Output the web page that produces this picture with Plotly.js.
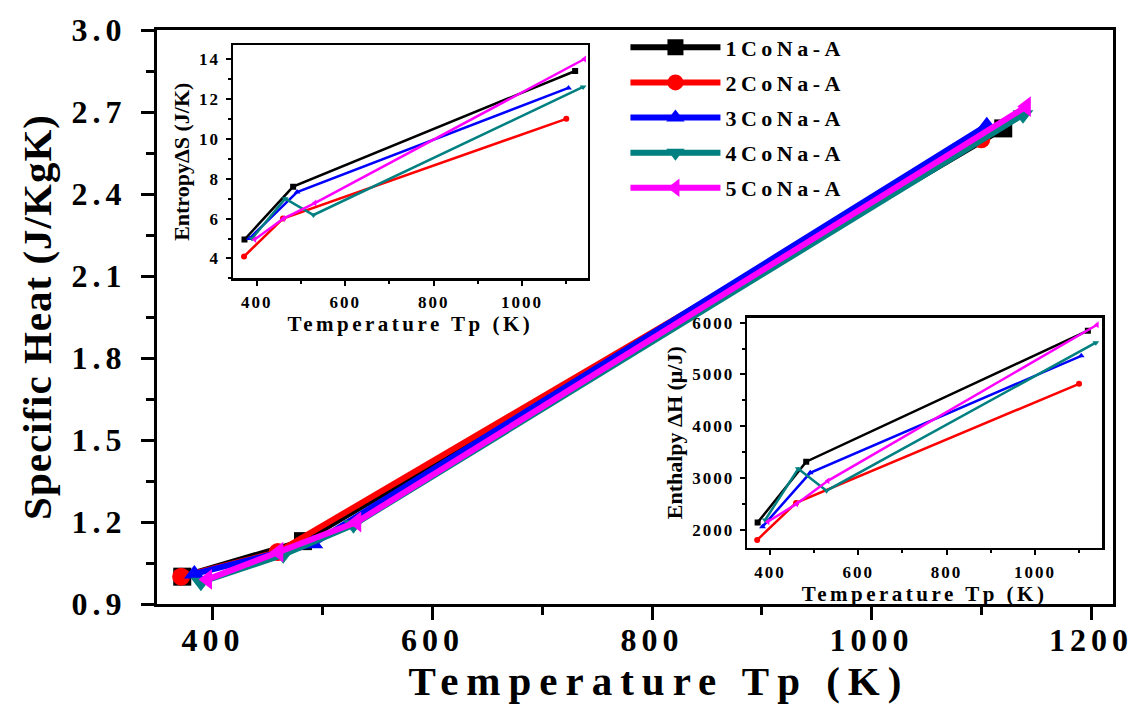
<!DOCTYPE html>
<html>
<head>
<meta charset="utf-8">
<script src="https://cdn.plot.ly/plotly-3.0.1.min.js"></script>
<style>
  body { margin: 0; background: #ffffff; }
  #chart { width: 1133px; height: 704px; }
  .xtick text, .ytick text { letter-spacing: 5px; }
  .x2tick text, .y2tick text, .x3tick text, .y3tick text { letter-spacing: 2px; }
  .g-xtitle text { letter-spacing: 8px; transform: translateX(24px); }
  .g-ytitle text { letter-spacing: 1px; }
  .g-x2title text, .g-x3title text { letter-spacing: 3.5px; }
  .legendtext { letter-spacing: 4.5px; }
</style>
</head>
<body>
<div id="chart"></div>
<script>
// ---- data ----
const seriesNames = ['1CoNa-A', '2CoNa-A', '3CoNa-A', '4CoNa-A', '5CoNa-A'];

// peak temperatures Tp (K) per sample
const temps1 = [372, 482, 1120];
const temps2 = [371, 459, 1100];
const temps3 = [383, 491, 1105];
const temps4 = [389, 464, 528, 1138];
const temps5 = [395, 460, 531, 1141];

// specific heat (J/KgK) – main panel
const cp1 = [1.00, 1.13, 2.64];
const cp2 = [1.00, 1.09, 2.60];
const cp3 = [1.01, 1.12, 2.65];
const cp4 = [0.98, 1.08, 1.19, 2.69];
const cp5 = [0.99, 1.09, 1.20, 2.72];

// entropy ΔS (J/K) – upper inset
const entropy1 = [4.95, 7.6, 13.4];
const entropy2 = [4.1, 6.0, 11.0];
const entropy3 = [5.0, 7.33, 12.55];
const entropy4 = [5.0, 7.0, 6.18, 12.6];
const entropy5 = [4.95, 6.0, 6.78, 14.0];

// enthalpy ΔH (μ/J) – lower inset
const enthalpy1 = [2140, 3315, 5845];
const enthalpy2 = [1805, 2520, 4820];
const enthalpy3 = [2060, 3100, 5360];
const enthalpy4 = [2190, 3180, 2755, 5615];
const enthalpy5 = [2155, 2500, 2945, 5960];

const xTickVals = [400, 600, 800, 1000, 1200];
const yTickVals = [0.9, 1.2, 1.5, 1.8, 2.1, 2.4, 2.7, 3.0];

// ---- styling ----
const colors = ['#000000', '#ff0000', '#0000ff', '#008080', '#ff00ff'];
const symbols = ['square', 'circle', 'triangle-up', 'triangle-down', 'triangle-left'];
const FONT = 'Liberation Serif, Times New Roman, serif';

const temps = [temps1, temps2, temps3, temps4, temps5];
const cps = [cp1, cp2, cp3, cp4, cp5];
const entropies = [entropy1, entropy2, entropy3, entropy4, entropy5];
const enthalpies = [enthalpy1, enthalpy2, enthalpy3, enthalpy4, enthalpy5];

const traces = [];
for (let i = 0; i < 5; i++) {
  traces.push({
    x: temps[i], y: cps[i], xaxis: 'x', yaxis: 'y',
    type: 'scatter', mode: 'lines+markers', name: seriesNames[i],
    legendgroup: 'g' + i,
    line: { color: colors[i], width: 6 },
    marker: { color: colors[i], symbol: symbols[i], size: 18 }
  });
}
for (let i = 0; i < 5; i++) {
  traces.push({
    x: temps[i], y: entropies[i], xaxis: 'x2', yaxis: 'y2',
    type: 'scatter', mode: 'lines+markers', showlegend: false,
    line: { color: colors[i], width: 2.5 },
    marker: { color: colors[i], symbol: symbols[i], size: 6 }
  });
}
for (let i = 0; i < 5; i++) {
  traces.push({
    x: temps[i], y: enthalpies[i], xaxis: 'x3', yaxis: 'y3',
    type: 'scatter', mode: 'lines+markers', showlegend: false,
    line: { color: colors[i], width: 2.5 },
    marker: { color: colors[i], symbol: symbols[i], size: 6 }
  });
}

const bold = (size) => ({ family: FONT, size: size, color: '#000', weight: 'bold' });

const mainAxis = {
  showgrid: false, zeroline: false, showline: true, linecolor: '#000', linewidth: 3,
  mirror: true, ticks: 'outside', ticklen: 13, tickwidth: 3, tickcolor: '#000',
  tickfont: bold(32), automargin: false, ticklabeloverflow: 'allow'
};
const insetAxis = {
  showgrid: false, zeroline: false, showline: true, linecolor: '#000', linewidth: 2.5,
  mirror: true, ticks: 'outside', ticklen: 5, tickwidth: 2, tickcolor: '#000',
  tickfont: bold(17), automargin: false, ticklabeloverflow: 'allow'
};

const layout = {
  width: 1133, height: 704,
  margin: { l: 157, r: 20, t: 30, b: 100 },
  paper_bgcolor: '#ffffff', plot_bgcolor: 'rgba(0,0,0,0)',
  font: { family: FONT, color: '#000' },
  showlegend: true,
  legend: {
    x: 0.49, y: 1.006, xanchor: 'left', yanchor: 'top',
    bgcolor: 'rgba(0,0,0,0)', borderwidth: 0,
    font: bold(22), itemwidth: 90, tracegroupgap: 3.5
  },
  xaxis: Object.assign({}, mainAxis, {
    domain: [0, 1], anchor: 'y', range: [349, 1220],
    tickvals: xTickVals, ticklabelstandoff: -7,
    minor: { dtick: 100, ticklen: 8, tickwidth: 3, tickcolor: '#000', ticks: 'outside' },
    title: { text: 'Temperature Tp (K)', font: bold(41), standoff: 20 }
  }),
  yaxis: Object.assign({}, mainAxis, {
    domain: [0, 1], anchor: 'x', range: [0.9, 3.0],
    tickvals: yTickVals, ticktext: yTickVals.map(v => v.toFixed(1)), ticklabelstandoff: 8,
    minor: { dtick: 0.15, tick0: 0.9, ticklen: 8, tickwidth: 3, tickcolor: '#000', ticks: 'outside' },
    title: { text: 'Specific Heat (J/KgK)', font: bold(41), standoff: 8 }
  }),
  xaxis2: Object.assign({}, insetAxis, {
    domain: [0.0795, 0.4508], anchor: 'y2', range: [346, 1149],
    dtick: 200, tick0: 0, ticklabelstandoff: 2,
    minor: { dtick: 100, ticklen: 3, tickwidth: 2, tickcolor: '#000', ticks: 'outside' },
    title: { text: 'Temperature Tp (K)', font: bold(21), standoff: 4 }
  }),
  yaxis2: Object.assign({}, insetAxis, {
    domain: [0.5672, 0.9738], anchor: 'x2', range: [3.0, 14.7],
    dtick: 2, tick0: 0, ticklabelstandoff: 2,
    minor: { dtick: 1, ticklen: 3, tickwidth: 2, tickcolor: '#000', ticks: 'outside' },
    title: { text: 'EntropyΔS (J/K)', font: bold(22), standoff: 4 }
  }),
  xaxis3: Object.assign({}, insetAxis, {
    domain: [0.6172, 0.9885], anchor: 'y3', range: [348, 1152],
    dtick: 200, tick0: 0, ticklabelstandoff: 2,
    minor: { dtick: 100, ticklen: 3, tickwidth: 2, tickcolor: '#000', ticks: 'outside' },
    title: { text: 'Temperature Tp (K)', font: bold(21), standoff: 4 }
  }),
  yaxis3: Object.assign({}, insetAxis, {
    domain: [0.0977, 0.4991], anchor: 'x3', range: [1650, 6100],
    dtick: 1000, tick0: 0, ticklabelstandoff: 2,
    minor: { dtick: 500, ticklen: 3, tickwidth: 2, tickcolor: '#000', ticks: 'outside' },
    title: { text: 'Enthalpy ΔH (μ/J)', font: bold(22), standoff: 4 }
  })
};

Plotly.newPlot('chart', traces, layout, { displayModeBar: false, staticPlot: true });
</script>
</body>
</html>
